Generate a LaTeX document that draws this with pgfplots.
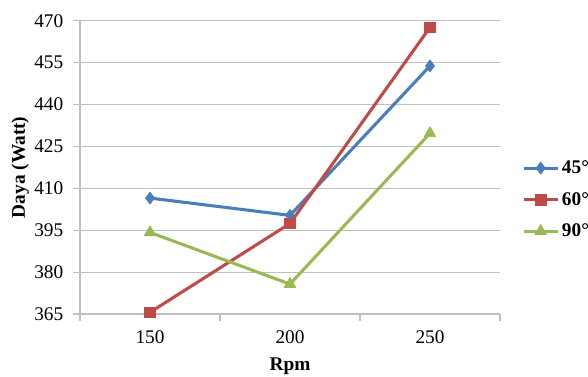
\documentclass[border=0pt]{standalone}
\usepackage{fontspec}
\setmainfont{Liberation Serif}
\usepackage{pgfplots}
\pgfplotsset{compat=1.18}
\definecolor{cblue}{HTML}{4A7EBB}
\definecolor{cred}{HTML}{BE4B48}
\definecolor{cgreen}{HTML}{98B954}
\definecolor{cgrid}{HTML}{BFBFBF}
\begin{document}
\begin{tikzpicture}[x=0.75pt,y=0.75pt]
\path[use as bounding box] (0,0) rectangle (588,376);
\begin{axis}[
  at={(80*0.75pt,62*0.75pt)}, anchor=south west,
  scale only axis, width=315pt, height=220pt,
  xmin=0.5, xmax=3.5, ymin=365, ymax=470,
  axis x line*=bottom, axis y line*=left,
  axis line style={cgrid, line width=0.8pt, -},
  xtick={1,2,3}, xticklabels={150,200,250},
  major x tick style={draw=none},
  minor xtick={0.5,1.5,2.5,3.5},
  minor x tick style={cgrid, line width=0.8pt},
  ytick={365,380,...,470},
  ytick style={cgrid, line width=0.8pt},
  tick align=outside, major tick length=5pt, minor tick length=5pt,
  ymajorgrids, grid style={cgrid, line width=0.8pt},
  /pgf/number format/assume math mode=true,
  tick label style={font=\fontsize{14.5}{16}\selectfont, black},
  yticklabel style={xshift=-4pt},
  xticklabel style={yshift=-4pt},
  xlabel={\textbf{Rpm}}, ylabel={\textbf{Daya (Watt)}},
  label style={font=\fontsize{14.5}{16}\selectfont},
  xlabel style={yshift=-4pt},
  ylabel style={yshift=-3pt},
  clip=false,
  legend style={draw=none, fill=none, at={(1.052,0.39)}, anchor=west, font=\fontsize{14.5}{16}\selectfont\bfseries, row sep=8.5pt, inner sep=0pt},
  legend cell align=left,
  legend image code/.code={\draw[mark repeat=2,mark phase=2,#1] plot coordinates {(0cm,0cm) (0.45cm,0cm) (0.9cm,0cm)};},
]
\addplot[cblue, line width=2.3pt, mark=diamond*, mark size=4.5pt, mark options={solid, line width=0.5pt}] coordinates {(1,406.5) (2,400.3) (3,453.8)};
\addplot[cred, line width=2.3pt, mark=square*, mark size=4pt, mark options={solid, line width=0.5pt}] coordinates {(1,365.6) (2,397.4) (3,467.6)};
\addplot[cgreen, line width=2.3pt, mark=triangle*, mark size=5pt, mark options={solid, line width=0.5pt}] coordinates {(1,394.2) (2,375.7) (3,429.7)};
\legend{45°,60°,90°}
\end{axis}
\end{tikzpicture}
\end{document}
